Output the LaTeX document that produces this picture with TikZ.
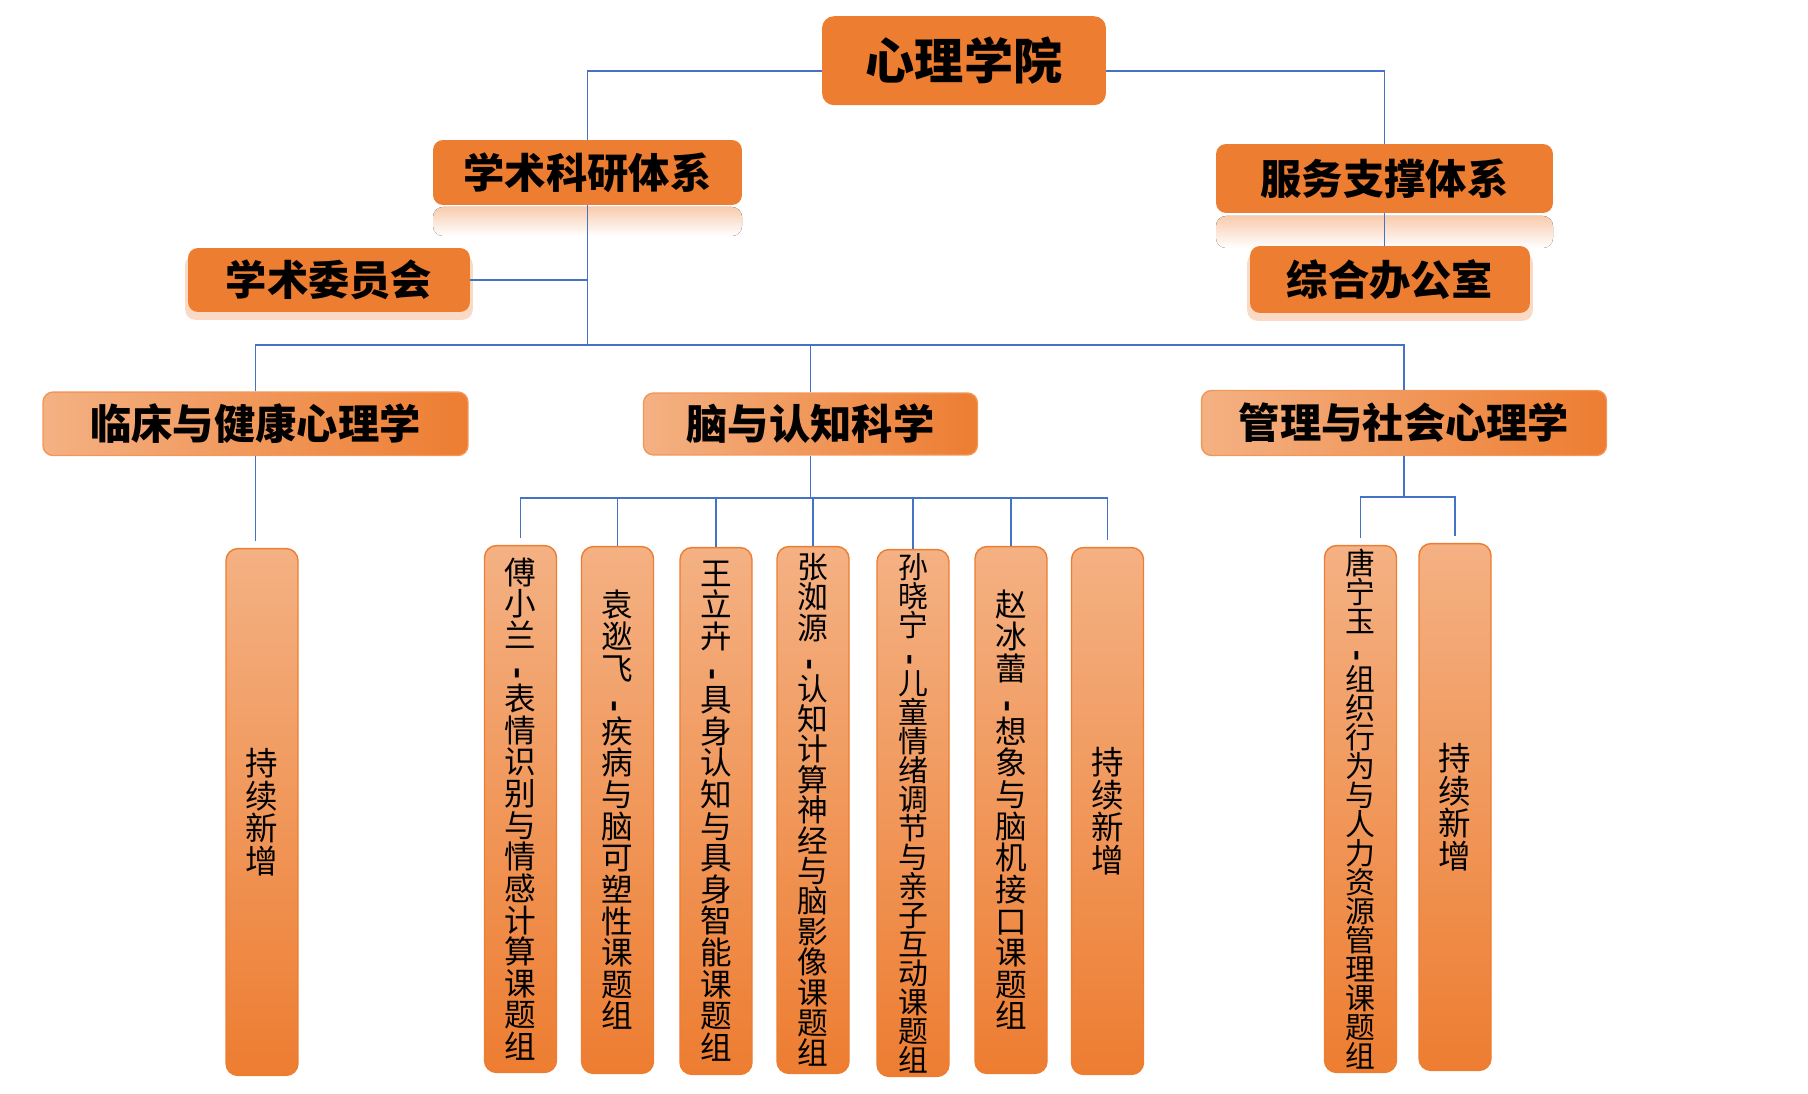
\documentclass[tikz,border=0pt]{standalone}
\usepackage{fontspec}
\setmainfont{Noto Sans CJK SC}
\usetikzlibrary{shadows}
\definecolor{orangemain}{HTML}{ED7D31}
\definecolor{orangelight}{HTML}{F4B183}
\definecolor{orangepale}{HTML}{F8CBAD}
\definecolor{linkblue}{HTML}{4472C4}
\newcommand\vdashmark{\rotatebox[origin=c]{90}{\bfseries -}}
\begin{document}
\begin{tikzpicture}[x=0.02cm,y=-0.02cm,
  link/.style={draw=linkblue,line width=1.1pt},
  topbox/.style={fill=orangemain,rounded corners=0.24cm,inner sep=0pt,
    font=\fontsize{28pt}{30pt}\selectfont\bfseries},
  subbox/.style={fill=orangemain,rounded corners=0.2cm,inner sep=0pt,
    font=\fontsize{23.5pt}{26pt}\selectfont\bfseries},
  glowbox/.style={subbox,drop shadow={shadow xshift=0pt,shadow yshift=-4pt,shadow scale=1.02,fill=orangepale,opacity=0.7}},
  groupbox/.style={draw=orangemain!80,line width=0.8pt,left color=orangelight,right color=orangemain,
    rounded corners=0.2cm,inner sep=0pt,font=\fontsize{23.5pt}{26pt}\selectfont\bfseries},
  colbox/.style={draw=orangemain,line width=0.8pt,top color=orangelight,bottom color=orangemain,
    rounded corners=0.24cm,inner sep=0pt,minimum width=1.44cm,minimum height=10.54cm,
    text width=1.3cm,align=center}
]
\useasboundingbox (0,0) rectangle (1808,1094);
% reflections under the two systems
\fill [top color=orangepale,bottom color=white,rounded corners=0.2cm] (433,207) rectangle (742,236);
\fill [top color=orangepale,bottom color=white,rounded corners=0.2cm] (1216,216) rectangle (1553,248);
% top levels
\node [topbox,minimum width=5.68cm,minimum height=1.78cm] (root) at (964,60.7) {心理学院};
\node [subbox,minimum width=6.18cm,minimum height=1.3cm] (acad) at (587.5,172.5) {学术科研体系};
\node [subbox,minimum width=6.74cm,minimum height=1.38cm] (serv) at (1384.5,178.5) {服务支撑体系};
\node [glowbox,minimum width=5.64cm,minimum height=1.28cm] (comm) at (329,280) {学术委员会};
\node [glowbox,minimum width=5.6cm,minimum height=1.34cm] (office) at (1390,279.5) {综合办公室};
% disciplines
\node [groupbox,minimum width=8.5cm,minimum height=1.27cm] (clin) at (255.5,423.8) {临床与健康心理学};
\node [groupbox,minimum width=6.68cm,minimum height=1.24cm] (brain) at (810.5,424) {脑与认知科学};
\node [groupbox,minimum width=8.1cm,minimum height=1.3cm] (mgmt) at (1404,423) {管理与社会心理学};
% research groups
\node [colbox,font=\fontsize{18.5pt}{18.5pt}\selectfont] (p0) at (262,812) {持\\续\\新\\增};
\node [colbox,font=\fontsize{18pt}{18pt}\selectfont] (c1) at (520.5,809) {傅\\小\\兰\\\vdashmark\\表\\情\\识\\别\\与\\情\\感\\计\\算\\课\\题\\组};
\node [colbox,font=\fontsize{18pt}{18pt}\selectfont] (c2) at (617.5,810) {袁\\逖\\飞\\\vdashmark\\疾\\病\\与\\脑\\可\\塑\\性\\课\\题\\组};
\node [colbox,font=\fontsize{18pt}{18pt}\selectfont] (c3) at (716,811) {王\\立\\卉\\\vdashmark\\具\\身\\认\\知\\与\\具\\身\\智\\能\\课\\题\\组};
\node [colbox,font=\fontsize{17.5pt}{17.3pt}\selectfont] (c4) at (813,810) {张\\洳\\源\\\vdashmark\\认\\知\\计\\算\\神\\经\\与\\脑\\影\\像\\课\\题\\组};
\node [colbox,font=\fontsize{17pt}{16.5pt}\selectfont] (c5) at (913,813) {孙\\晓\\宁\\\vdashmark\\儿\\童\\情\\绪\\调\\节\\与\\亲\\子\\互\\动\\课\\题\\组};
\node [colbox,font=\fontsize{18pt}{18pt}\selectfont] (c6) at (1011,810) {赵\\冰\\蕾\\\vdashmark\\想\\象\\与\\脑\\机\\接\\口\\课\\题\\组};
\node [colbox,font=\fontsize{18.5pt}{18.5pt}\selectfont] (c7) at (1107.5,811) {持\\续\\新\\增};
\node [colbox,font=\fontsize{17pt}{16.5pt}\selectfont] (m1) at (1360.5,809) {唐\\宁\\玉\\\vdashmark\\组\\织\\行\\为\\与\\人\\力\\资\\源\\管\\理\\课\\题\\组};
\node [colbox,font=\fontsize{18.5pt}{18.5pt}\selectfont] (m2) at (1455,807) {持\\续\\新\\增};
% connectors
\coordinate (bus) at (588,345);
\coordinate (bbus) at (810.5,498);
\coordinate (mbus) at (1404,497);
\draw [link] (root.west |- 0,70.7) -| (acad.north);
\draw [link] (root.east |- 0,70.7) -| (serv.north);
\draw [link] (acad.south) -- (acad.south |- bus);
\draw [link] (comm.east) -- (comm.east -| bus);
\draw [link] (serv.south) -- (serv.south |- office.north);
\draw [link] (clin.north) |- (bus) -| (mgmt.north);
\draw [link] (brain.north) -- (brain.north |- bus);
\draw [link,shorten >=4pt] (clin.south) -- (clin.south |- p0.north);
\draw [link] (brain.south) -- (bbus);
\draw [link,shorten >=4pt] (bbus) -| (c1.north);
\draw [link] (bbus) -| (c2.north);
\draw [link] (bbus) -| (c3.north);
\draw [link] (bbus) -| (c4.north);
\draw [link] (bbus) -| (c5.north);
\draw [link] (bbus) -| (c6.north);
\draw [link,shorten >=4pt] (bbus) -| (c7.north);
\draw [link] (mgmt.south) -- (mbus);
\draw [link,shorten >=4pt] (mbus) -| (m1.north);
\draw [link,shorten >=4pt] (mbus) -| (m2.north);
\end{tikzpicture}
\end{document}
